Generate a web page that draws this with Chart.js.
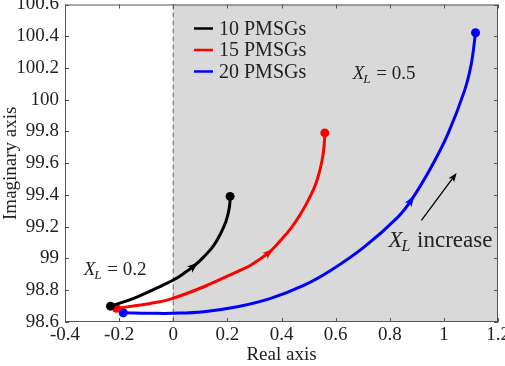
<!DOCTYPE html>
<html lang="en">
<head>
<meta charset="UTF-8" />
<title>Root locus</title>
<script src="https://cdn.jsdelivr.net/npm/chart.js"></script>
<style>
  html, body { margin: 0; padding: 0; background: #fff; }
  #wrap { width: 505px; height: 366px; }
</style>
</head>
<body>
<div id="wrap"><canvas id="locus"></canvas></div>
<script>
// trajectories (real part, imaginary part)
const blackX = [-0.232, -0.146, -0.047, 0.002, 0.039, 0.076, 0.113, 0.150, 0.175, 0.194, 0.204, 0.209, 0.210];
const blackY = [98.700, 98.749, 98.825, 98.866, 98.906, 98.952, 99.010, 99.083, 99.157, 99.230, 99.292, 99.345, 99.391];
const redX = [-0.210, -0.084, -0.01, 0.113, 0.237, 0.286, 0.354, 0.397, 0.434, 0.471, 0.502, 0.527, 0.543, 0.553, 0.558, 0.560];
const redY = [98.686, 98.717, 98.744, 98.822, 98.918, 98.958, 99.038, 99.115, 99.188, 99.282, 99.377, 99.471, 99.565, 99.648, 99.722, 99.791];
const blueX = [-0.185, -0.084, 0, 0.113, 0.237, 0.360, 0.484, 0.583, 0.706, 0.830, 0.879, 0.953, 1.015, 1.076, 1.101, 1.117];
const blueY = [98.658, 98.655, 98.655, 98.665, 98.696, 98.749, 98.832, 98.926, 99.073, 99.261, 99.366, 99.575, 99.785, 100.056, 100.224, 100.422];

const seriesNames = ['10 PMSGs', '15 PMSGs', '20 PMSGs'];
const seriesColors = ['#000000', '#ff0000', '#0000ff'];
const arrowIndex = [5, 6, 10]; // point where the direction arrow sits

const xMin = -0.4, xMax = 1.2, xStep = 0.2;
const yMin = 98.6, yMax = 100.6, yStep = 0.2;

const serif = "'Liberation Serif', 'Times New Roman', serif";

function pts(xs, ys) {
  return xs.map((x, i) => ({ x: x, y: ys[i] }));
}
function ends(n, r) {
  return Array.from({ length: n }, (_, i) => (i === 0 || i === n - 1) ? r : 0);
}
function fmt(v) {
  return String(Number(v.toFixed(1)));
}

const allX = [blackX, redX, blueX];
const allY = [blackY, redY, blueY];

// shaded right half + dashed imaginary axis
const backdrop = {
  id: 'backdrop',
  beforeDatasetsDraw(chart) {
    const { ctx, chartArea: a, scales: { x } } = chart;
    const x0 = x.getPixelForValue(0);
    ctx.save();
    ctx.fillStyle = '#d9d9d9';
    ctx.fillRect(x0, a.top, a.right - x0, a.bottom - a.top);
    ctx.strokeStyle = '#7a7a7a';
    ctx.lineWidth = 1.2;
    ctx.setLineDash([5, 3]);
    ctx.beginPath();
    ctx.moveTo(x0, a.top);
    ctx.lineTo(x0, a.bottom);
    ctx.stroke();
    ctx.restore();
  }
};

function arrowHead(ctx, px, py, ang, len, wid, color) {
  ctx.save();
  ctx.translate(px, py);
  ctx.rotate(ang);
  ctx.fillStyle = color;
  ctx.beginPath();
  ctx.moveTo(len * 0.5, 0);
  ctx.lineTo(-len * 0.5, -wid / 2);
  ctx.lineTo(-len * 0.25, 0);
  ctx.lineTo(-len * 0.5, wid / 2);
  ctx.closePath();
  ctx.fill();
  ctx.restore();
}

function xlText(ctx, px, py, rest, size) {
  ctx.font = 'italic ' + size + 'px ' + serif;
  ctx.fillText('X', px, py);
  let w = ctx.measureText('X').width;
  ctx.font = 'italic ' + Math.round(size * 0.7) + 'px ' + serif;
  ctx.fillText('L', px + w - 1, py + 4);
  w += ctx.measureText('L').width;
  ctx.font = size + 'px ' + serif;
  ctx.fillText(rest, px + w, py);
}

const decor = {
  id: 'decor',
  afterDatasetsDraw(chart) {
    const { ctx, chartArea: a, scales: { x, y } } = chart;
    // arrows along the curves
    allX.forEach((xs, s) => {
      const i = arrowIndex[s];
      const p0x = x.getPixelForValue(xs[i - 1]), p0y = y.getPixelForValue(allY[s][i - 1]);
      const p1x = x.getPixelForValue(xs[i + 1]), p1y = y.getPixelForValue(allY[s][i + 1]);
      const ang = Math.atan2(p1y - p0y, p1x - p0x);
      arrowHead(ctx, x.getPixelForValue(xs[i]), y.getPixelForValue(allY[s][i]), ang, 11, 8, seriesColors[s]);
    });

    // legend
    ctx.save();
    ctx.textBaseline = 'middle';
    seriesNames.forEach((name, i) => {
      const ly = a.top + 24 + i * 21.5;
      ctx.strokeStyle = seriesColors[i];
      ctx.lineWidth = 2.5;
      ctx.beginPath();
      ctx.moveTo(a.left + 129, ly);
      ctx.lineTo(a.left + 148, ly);
      ctx.stroke();
      ctx.fillStyle = '#222';
      ctx.font = '20px ' + serif;
      ctx.fillText(name, a.left + 154, ly + 1);
    });
    ctx.restore();

    // annotations
    ctx.save();
    ctx.fillStyle = '#222';
    ctx.textBaseline = 'alphabetic';
    xlText(ctx, x.getPixelForValue(-0.331), y.getPixelForValue(98.895), ' = 0.2', 19);
    xlText(ctx, x.getPixelForValue(0.663), y.getPixelForValue(100.13), ' = 0.5', 19);
    xlText(ctx, x.getPixelForValue(0.795), y.getPixelForValue(99.072), ' increase', 23);
    // X_L increase arrow
    const ax0 = x.getPixelForValue(0.917), ay0 = y.getPixelForValue(99.24);
    const ax1 = x.getPixelForValue(1.046), ay1 = y.getPixelForValue(99.536);
    const ang = Math.atan2(ay1 - ay0, ax1 - ax0);
    ctx.strokeStyle = '#000';
    ctx.lineWidth = 1.3;
    ctx.beginPath();
    ctx.moveTo(ax0, ay0);
    ctx.lineTo(ax1 - 6 * Math.cos(ang), ay1 - 6 * Math.sin(ang));
    ctx.stroke();
    arrowHead(ctx, ax1 - 4 * Math.cos(ang), ay1 - 4 * Math.sin(ang), ang, 9, 7, '#000');
    ctx.restore();
  },
  afterDraw(chart) {
    const { ctx, chartArea: a, scales: { x, y } } = chart;
    ctx.save();
    ctx.strokeStyle = '#555';
    ctx.lineWidth = 1;
    ctx.strokeRect(a.left + 0.5, a.top + 0.5, a.right - a.left - 1, a.bottom - a.top - 1);
    ctx.beginPath();
    x.ticks.forEach(t => {
      const px = Math.round(x.getPixelForValue(t.value)) + 0.5;
      ctx.moveTo(px, a.bottom); ctx.lineTo(px, a.bottom - 4);
      ctx.moveTo(px, a.top); ctx.lineTo(px, a.top + 4);
    });
    y.ticks.forEach(t => {
      const py = Math.round(y.getPixelForValue(t.value)) + 0.5;
      ctx.moveTo(a.left, py); ctx.lineTo(a.left + 4, py);
      ctx.moveTo(a.right, py); ctx.lineTo(a.right - 4, py);
    });
    ctx.stroke();
    ctx.restore();
  }
};

const ctx = document.getElementById('locus').getContext('2d');
const locusChart = new Chart(ctx, {
  type: 'scatter',
  data: {
    datasets: allX.map((xs, s) => ({
      label: seriesNames[s],
      data: pts(xs, allY[s]),
      showLine: true,
      borderColor: seriesColors[s],
      backgroundColor: seriesColors[s],
      borderWidth: 3,
      tension: 0.4,
      pointRadius: ends(xs.length, 4.5),
      pointBorderWidth: 0,
      pointHoverRadius: 0
    }))
  },
  options: {
    responsive: true,
    maintainAspectRatio: false,
    animation: false,
    events: [],
    layout: { padding: { left: 0, right: 7, top: 4, bottom: 0 } },
    plugins: {
      legend: { display: false },
      tooltip: { enabled: false }
    },
    scales: {
      x: {
        type: 'linear',
        min: xMin,
        max: xMax,
        grid: { display: false, drawTicks: false },
        border: { display: false },
        ticks: {
          stepSize: xStep,
          color: '#222',
          padding: 2,
          maxRotation: 0,
          font: { family: serif, size: 19 },
          callback: v => fmt(v)
        },
        title: {
          display: true,
          text: 'Real axis',
          color: '#222',
          padding: { top: 0, bottom: 0 },
          font: { family: serif, size: 19 }
        },
        afterFit(scale) {
          scale.height = 44;
          scale.paddingLeft = 0;
          scale.paddingRight = 0;
        }
      },
      y: {
        type: 'linear',
        min: yMin,
        max: yMax,
        grid: { display: false, drawTicks: false },
        border: { display: false },
        ticks: {
          stepSize: yStep,
          color: '#222',
          padding: 6,
          font: { family: serif, size: 19 },
          callback: v => fmt(v)
        },
        title: {
          display: true,
          text: 'Imaginary axis',
          color: '#222',
          padding: { top: 0, bottom: 0 },
          font: { family: serif, size: 19 }
        },
        afterFit(scale) {
          scale.width = 65;
          scale.paddingTop = 0;
          scale.paddingBottom = 0;
        }
      }
    }
  },
  plugins: [backdrop, decor]
});
</script>
</body>
</html>
